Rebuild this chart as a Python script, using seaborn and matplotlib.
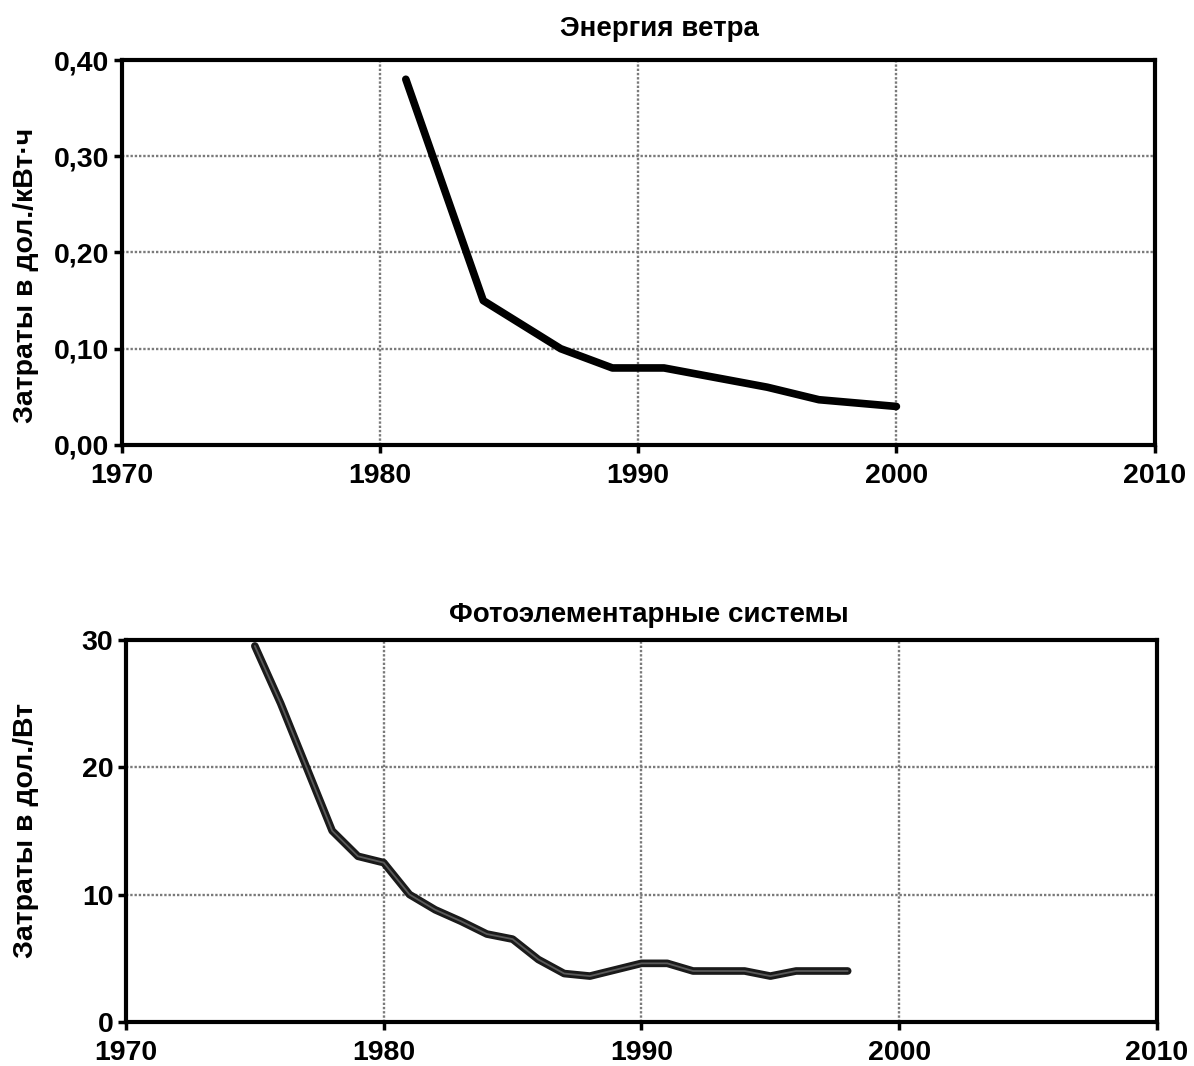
import numpy as np
import pandas as pd
import matplotlib
matplotlib.use("Agg")
import matplotlib.pyplot as plt
import seaborn as sns

# wind energy, cost in dollars per kWh
wind_years = [1981, 1984, 1987, 1989, 1991, 1993, 1995, 1997, 2000]
wind_cost = [0.38, 0.15, 0.10, 0.08, 0.08, 0.07, 0.06, 0.047, 0.04]
wind_title = "Энергия ветра"
wind_ylabel = "Затраты в дол./кВт·ч"
wind_yticks = [0.0, 0.1, 0.2, 0.3, 0.4]
wind_yticklabels = ["0,00", "0,10", "0,20", "0,30", "0,40"]

# photovoltaic systems, cost in dollars per W
pv_years = [1975, 1976, 1977, 1978, 1979, 1980, 1981, 1982, 1983, 1984, 1985, 1986,
            1987, 1988, 1989, 1990, 1991, 1992, 1993, 1994, 1995, 1996, 1997, 1998]
pv_cost = [29.5, 25.0, 20.0, 15.0, 13.0, 12.5, 10.0, 8.8, 7.9, 6.9, 6.5, 4.9,
           3.8, 3.6, 4.1, 4.6, 4.6, 4.0, 4.0, 4.0, 3.6, 4.0, 4.0, 4.0]
pv_title = "Фотоэлементарные системы"
pv_ylabel = "Затраты в дол./Вт"
pv_yticks = [0, 10, 20, 30]
pv_yticklabels = ["0", "10", "20", "30"]

xticks = [1970, 1980, 1990, 2000, 2010]
xticklabels = ["1970", "1980", "1990", "2000", "2010"]

sns.set_style("white")
plt.rcParams["font.family"] = ["Liberation Sans", "DejaVu Sans"]
plt.rcParams["font.weight"] = "bold"
plt.rcParams["text.color"] = "black"
plt.rcParams["axes.labelcolor"] = "black"
plt.rcParams["xtick.color"] = "black"
plt.rcParams["ytick.color"] = "black"

fig = plt.figure(figsize=(11.94, 10.66), dpi=100)
ax_wind = fig.add_axes([0.102, 0.5826, 0.865, 0.3611])
ax_pv = fig.add_axes([0.1055, 0.0413, 0.8635, 0.3587])


def style_axis(ax, yticks, yticklabels, ylim, title, title_x, title_pad, ylabel, label_xy):
    ax.set_xlim(1970, 2010)
    ax.set_ylim(*ylim)
    ax.set_xticks(xticks)
    ax.set_xticklabels(xticklabels, fontsize=20.5, fontweight="bold")
    ax.set_yticks(yticks)
    ax.set_yticklabels(yticklabels, fontsize=20.5, fontweight="bold")
    ax.tick_params(axis="both", direction="out", length=6, width=2.5, color="black",
                   left=True, bottom=True)
    ax.tick_params(axis="x", pad=7)
    ax.tick_params(axis="y", pad=3)
    ax.grid(True, color="#7a7a7a", linestyle=(0, (1, 0.8)), linewidth=1.7)
    for spine in ax.spines.values():
        spine.set_visible(True)
        spine.set_color("black")
        spine.set_linewidth(3)
    ax.set_title(title, fontsize=20, fontweight="bold", x=title_x, pad=title_pad)
    ax.set_ylabel(ylabel, fontsize=20.5, fontweight="bold")
    ax.yaxis.set_label_coords(*label_xy)
    ax.set_xlabel("")


wind_df = pd.DataFrame({"year": wind_years, "cost": wind_cost})
sns.lineplot(data=wind_df, x="year", y="cost", ax=ax_wind, color="black",
             linewidth=5.5, solid_capstyle="round")
style_axis(ax_wind, wind_yticks, wind_yticklabels, (0, 0.4), wind_title, 0.521, 17,
           wind_ylabel, (-0.080, 0.44))

pv_df = pd.DataFrame({"year": pv_years, "cost": pv_cost})
sns.lineplot(data=pv_df, x="year", y="cost", ax=ax_pv, color="#1a1a1a",
             linewidth=5.5, solid_capstyle="round")
sns.lineplot(data=pv_df, x="year", y="cost", ax=ax_pv, color="#5a5a5a",
             linewidth=1.3, solid_capstyle="round")
style_axis(ax_pv, pv_yticks, pv_yticklabels, (0, 30), pv_title, 0.507, 13,
           pv_ylabel, (-0.084, 0.5))

fig.savefig("out.png", dpi=100)
